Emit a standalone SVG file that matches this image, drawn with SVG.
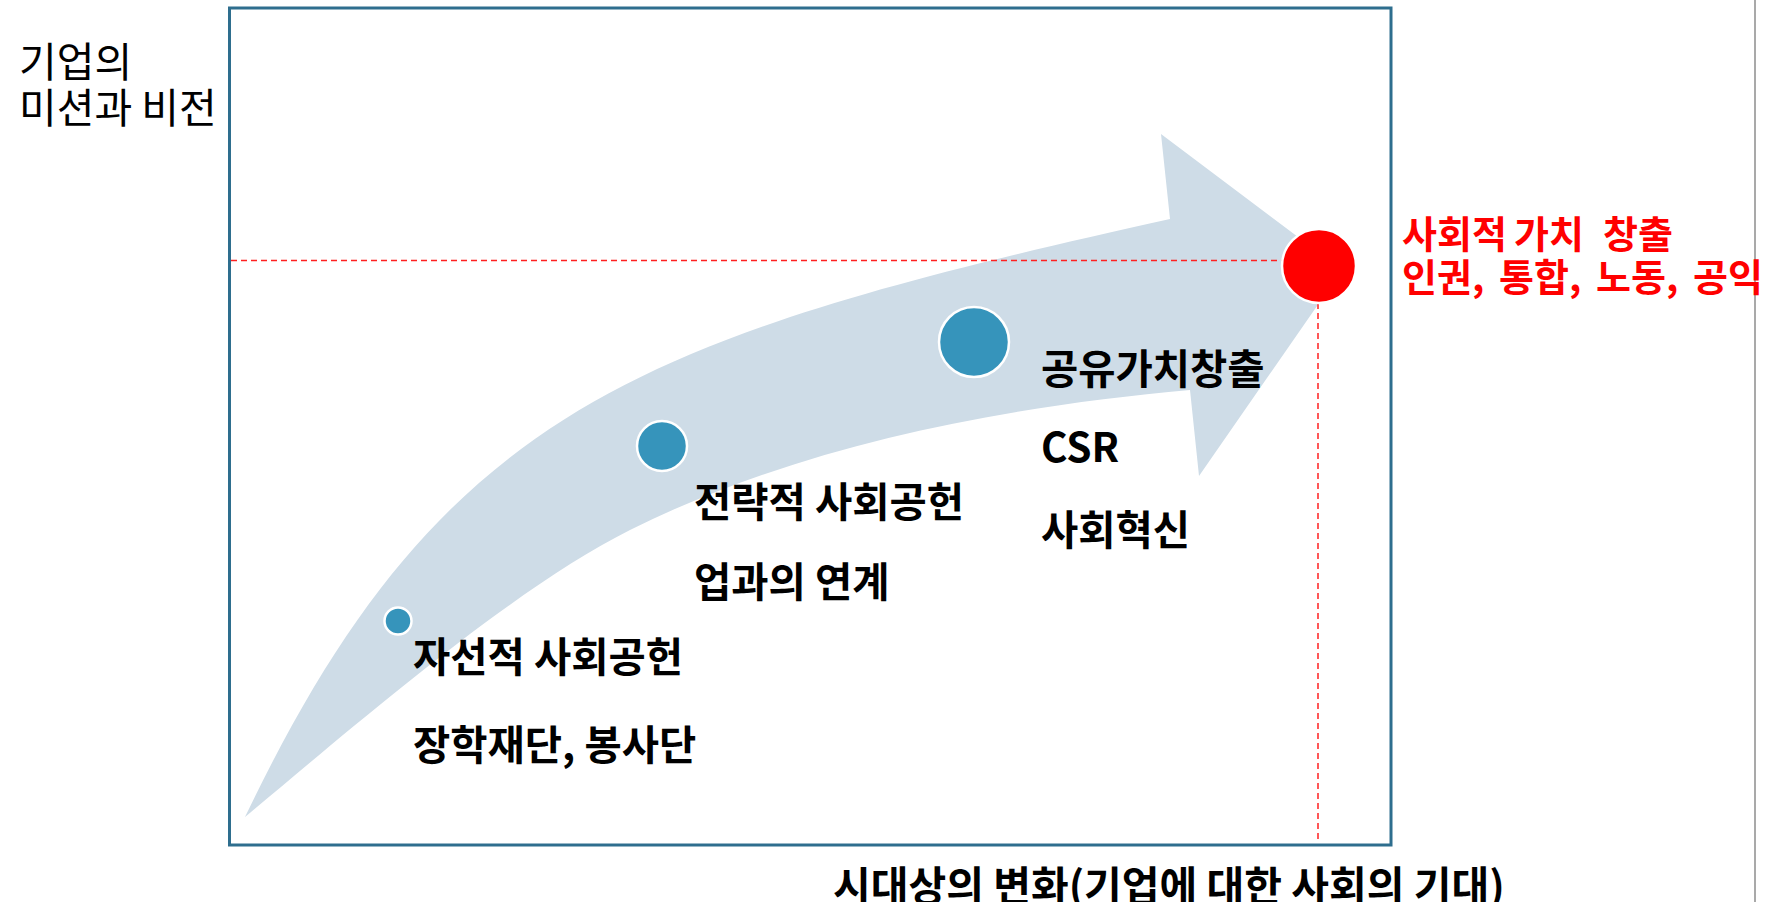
<svg xmlns="http://www.w3.org/2000/svg" width="1791" height="902" viewBox="0 0 1791 902">
<style>
text { font-family: "Noto Sans CJK KR", "Noto Sans", sans-serif; }
.lbl { font-size: 40.5px; font-weight: 700; fill: #000; }
.red { font-size: 38px; font-weight: 700; fill: #FF0000; }
.axis { font-size: 41px; font-weight: 400; fill: #000; }
.dot { fill: #3694BB; stroke: #FFFFFF; stroke-width: 2.5; }
.guide { stroke: #FF2020; stroke-width: 1.5; stroke-dasharray: 6 4; fill: none; }
</style>
<rect width="1791" height="902" fill="#FFFFFF"/>
<line x1="1755" y1="0" x2="1755" y2="902" stroke="#8C8C8C" stroke-width="1.5"/>
<rect id="frame" x="229.5" y="8" width="1161.5" height="837" fill="none" stroke="#2E6E8E" stroke-width="3"/>
<g id="axis-y-label">
<text class="axis" x="19" y="77">기업의</text>
<text class="axis" x="19" y="123">미션과 비전</text>
</g>
<g id="axis-x-label">
<text x="833" y="901" style="font-size:41px;font-weight:700;fill:#000">시대상의 변화(기업에 대한 사회의 기대)</text>
</g>
<g id="arrow">
<path d="M245,817 C440,410 634,338 1170,219 L1161,134 L1342,270 L1199,476 L1190,390 C1001,407 800,445 630,530 C510,590 346,733 245,817 Z" fill="#CEDCE7"/>
</g>
<g id="connectors">
<line class="guide" x1="231" y1="260.5" x2="1283" y2="260.5"/>
<line class="guide" x1="1318" y1="303" x2="1318" y2="843"/>
</g>
<g id="stage1">
<circle class="dot" cx="398" cy="621" r="13.5"/>
<text class="lbl" x="413" y="672">자선적 사회공헌</text>
<text class="lbl" x="413" y="760">장학재단, 봉사단</text>
</g>
<g id="stage2">
<circle class="dot" cx="662" cy="446" r="25"/>
<text class="lbl" x="694" y="517">전략적 사회공헌</text>
<text class="lbl" x="694" y="597">업과의 연계</text>
</g>
<g id="stage3">
<circle class="dot" cx="974" cy="342" r="35"/>
<text class="lbl" x="1041" y="384">공유가치창출</text>
<text class="lbl" x="1041" y="462">CSR</text>
<text class="lbl" x="1041" y="545">사회혁신</text>
</g>
<g id="goal">
<circle cx="1319" cy="266" r="37" fill="#FF0000" stroke="#FFFFFF" stroke-width="2.5"/>
<text class="red" y="248"><tspan x="1402">사회적</tspan><tspan x="1514">가치</tspan><tspan x="1603">창출</tspan></text>
<text class="red" y="291"><tspan x="1402">인권,</tspan><tspan x="1499">통합,</tspan><tspan x="1596">노동,</tspan><tspan x="1693">공익</tspan></text>
</g>
</svg>
